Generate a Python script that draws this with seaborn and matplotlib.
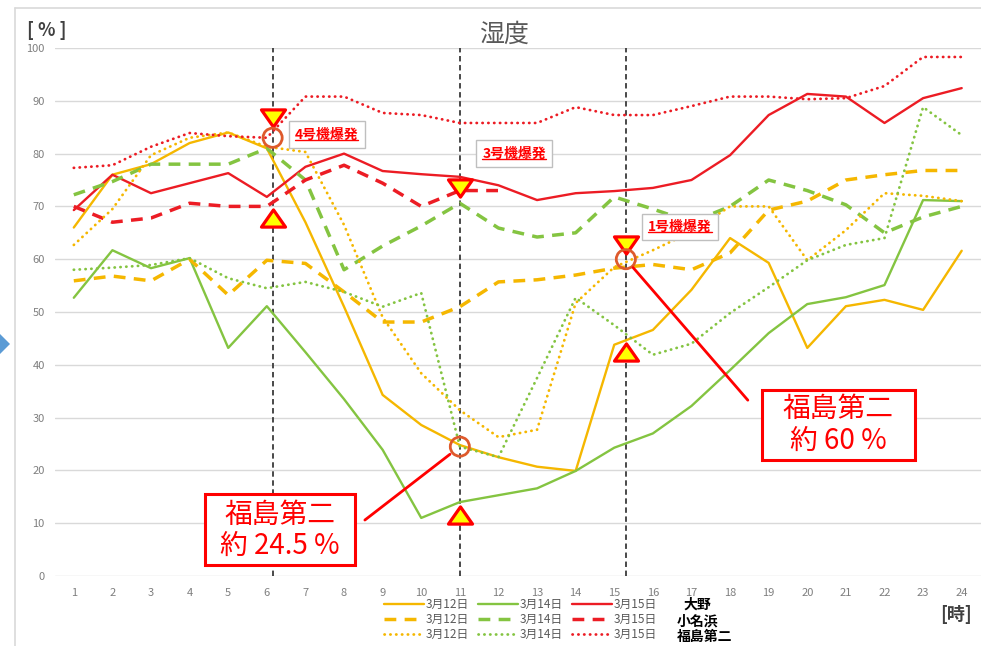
import numpy as np
import pandas as pd
import matplotlib
matplotlib.use("Agg")
import matplotlib.pyplot as plt
import seaborn as sns
from matplotlib.lines import Line2D
from matplotlib.patches import Polygon, Rectangle
from matplotlib.path import Path

# ---- humidity readings [%] by hour ----
hours = list(range(1, 25))

ono_0312 = [66, 76, 78, 82, 84, 81, 67, 51, 34.3, 28.6, 24.8, 22.5,
            20.7, 19.9, 43.8, 46.6, 54.2, 64, 59.3, 43.2, 51.1, 52.3, 50.4, 61.6]
ono_0314 = [52.7, 61.7, 58.3, 60.2, 43.2, 51.1, 42.4, 33.5, 23.9, 11.0, 14.0, 15.3,
            16.6, 19.9, 24.3, 27.0, 32.2, 39.0, 46.0, 51.5, 52.8, 55.1, 71.2, 71.0]
ono_0315 = [69.3, 76, 72.5, 74.4, 76.3, 71.8, 77.5, 80, 76.7, 76.1, 75.6, 74,
            71.2, 72.5, 72.9, 73.5, 75, 79.7, 87.3, 91.3, 90.8, 85.8, 90.5, 92.4]

onahama_0312 = [55.9, 56.8, 55.9, 60, 53.2, 59.8, 59.2, 53.8, 48.1, 48.1, 51, 55.7,
                56.1, 57, 58.3, 59, 58, 61.2, 69.3, 71, 75, 76, 76.8, 76.8]
onahama_0314 = [72.2, 74.7, 78, 78, 78, 81, 75, 58, 62.5, 66.3, 70.6, 65.9,
                64.2, 65, 71.8, 69.5, 67, 70, 75, 73, 70.3, 65, 68, 70]
onahama_0315 = [70, 67, 67.8, 70.6, 70, 70, 75, 77.8, 74.4, 70, 73, 73,
                np.nan, np.nan, np.nan, np.nan, np.nan, np.nan,
                np.nan, np.nan, np.nan, np.nan, np.nan, np.nan]

f2_0312 = [62.7, 69.5, 79.7, 83, 84, 81.3, 80.3, 66.5, 49, 38.4, 31.4, 26.3,
           27.7, 51.7, 58.5, 61.7, 65.2, 70, 70, 59.8, 65.5, 72.5, 72, 71]
f2_0314 = [58, 58.4, 58.9, 60.2, 56.4, 54.5, 55.7, 53.8, 51, 53.6, 24.5, 22.5,
           37.5, 52.7, 47.5, 41.9, 44, 49.8, 54.7, 59.8, 62.7, 64, 88.8, 83.5]
f2_0315 = [77.3, 77.8, 81.3, 83.9, 83.3, 83, 90.8, 90.8, 87.7, 87.3, 85.8, 85.8,
           85.8, 88.8, 87.3, 87.3, 89, 90.8, 90.8, 90.3, 90.5, 92.8, 98.3, 98.3]

sites = ["大野", "小名浜", "福島第二"]
dates = ["3月12日", "3月14日", "3月15日"]

# ---- explosion events ----
event_hours = [6.15, 11.0, 15.3]
event_labels = ["4号機爆発", "3号機爆発", "1号機爆発"]
event_down = [86.7, 73.5, 62.7]      # ▼ markers
event_up = [67.8, 11.5, 42.4]        # ▲ markers
event_f2 = [83.0, 24.5, 60.0]        # ○ 福島第二 reading at the event
callout_text = ["福島第二\n約 24.5 %", "福島第二\n約 60 %"]

values = {
    ("大野", "3月12日"): ono_0312, ("大野", "3月14日"): ono_0314, ("大野", "3月15日"): ono_0315,
    ("小名浜", "3月12日"): onahama_0312, ("小名浜", "3月14日"): onahama_0314, ("小名浜", "3月15日"): onahama_0315,
    ("福島第二", "3月12日"): f2_0312, ("福島第二", "3月14日"): f2_0314, ("福島第二", "3月15日"): f2_0315,
}
rows = []
for (site, date), vals in values.items():
    for h, v in zip(hours, vals):
        rows.append({"site": site, "date": date, "hour": h, "value": v})
df = pd.DataFrame(rows)

# ---- styles ----
sns.set_style("white")
plt.rcParams["font.family"] = ["Noto Sans CJK JP", "DejaVu Sans"]

date_color = {"3月12日": "#F5B700", "3月14日": "#84C441", "3月15日": "#EC1C24"}
site_style = {
    "大野": dict(linestyle="-", linewidth=1.7),
    "小名浜": dict(linestyle=(0, (3.4, 2.4)), linewidth=2.5),
    "福島第二": dict(linestyle=(0, (0.1, 2.0)), linewidth=2.0, dash_capstyle="round"),
}

W, H = 981, 646
fig = plt.figure(figsize=(W / 100, H / 100), dpi=100)
ax = fig.add_axes([54.5 / W, 1 - 576 / H, (W - 54.5) / W, (576 - 48) / H])

for site in sites:
    for date in dates:
        sub = df[(df.site == site) & (df.date == date)].dropna()
        sns.lineplot(data=sub, x="hour", y="value", ax=ax, color=date_color[date],
                     estimator=None, sort=False, zorder=3, **site_style[site])

ax.set_xlim(0.5, 24.5)
ax.set_ylim(0, 100)
ax.set_xticks(hours)
ax.set_yticks(range(0, 101, 10))
ax.set_xlabel("")
ax.set_ylabel("")
ax.grid(axis="y", color="#D9D9D9", linewidth=1)
ax.grid(axis="x", visible=False)
for s in ax.spines.values():
    s.set_visible(False)
ax.tick_params(axis="both", length=0, labelsize=8, labelcolor="#7F7F7F")
ax.tick_params(axis="y", pad=7)
ax.tick_params(axis="x", pad=9)

# event lines and markers
for x in event_hours:
    ax.axvline(x, color="#3A3A3A", linestyle=(0, (3, 2)), linewidth=1.3, zorder=2)

tri_down = Path([(-1.4, 1), (1.4, 1), (0, -1), (-1.4, 1)],
                [Path.MOVETO, Path.LINETO, Path.LINETO, Path.CLOSEPOLY])
tri_up = Path([(-1.4, -1), (1.4, -1), (0, 1), (-1.4, -1)],
              [Path.MOVETO, Path.LINETO, Path.LINETO, Path.CLOSEPOLY])
sns.scatterplot(x=event_hours, y=event_down, marker=tri_down, s=300, color="#FFFF00",
                edgecolor="#FF0000", linewidth=2.3, ax=ax, zorder=6)
sns.scatterplot(x=event_hours, y=event_up, marker=tri_up, s=300, color="#FFFF00",
                edgecolor="#FF0000", linewidth=2.3, ax=ax, zorder=6)
sns.scatterplot(x=event_hours, y=event_f2, marker="o", s=190, facecolor="none",
                edgecolor="#DE5A2C", linewidth=2.0, ax=ax, zorder=6)

# event name tags (placed to the right of each event line)
tag_pos = [(7.55, 83.6), (12.41, 80.0), (16.7, 66.1)]
tags = []
for (tx, ty), lab in zip(tag_pos, event_labels):
    t = ax.text(tx, ty, lab, ha="center", va="center", fontsize=10, fontweight="bold",
                color="#FF0000",
                bbox=dict(boxstyle="square,pad=0.45", fc="white", ec="#BFBFBF", lw=1),
                zorder=7)
    tags.append(t)

# call-out boxes for 福島第二
callout_boxes = [(4.39, 2.1, 3.89, 13.4), (18.82, 22.0, 3.97, 13.2)]
callout_centres = [(6.34, 8.6), (20.8, 28.6)]
callout_anchor = [(8.54, 10.6), (18.46, 33.3)]
for (bx, by, bw, bh), (cx, cy), txt in zip(callout_boxes, callout_centres, callout_text):
    ax.add_patch(Rectangle((bx, by), bw, bh, fc="white", ec="#FF0000", lw=2.2, zorder=8))
    ax.text(cx, cy, txt, ha="center", va="center", fontsize=20, color="#FF0000",
            linespacing=1.05, zorder=9)
for (ex, ey, shrink), (lx, ly) in zip([(event_hours[1], event_f2[1], 9),
                                       (event_hours[2], event_f2[2], 8)], callout_anchor):
    ax.annotate("", xy=(ex, ey), xytext=(lx, ly),
                arrowprops=dict(arrowstyle="-", color="#FF0000", lw=2.0,
                                shrinkA=0, shrinkB=shrink), zorder=7)

# titles and unit labels
fig.text(504 / W, 1 - 35 / H, "湿度", ha="center", va="center", fontsize=18, color="#595959")
fig.text(27 / W, 1 - 30 / H, "[ % ]", ha="left", va="center", fontsize=13,
         fontweight="bold", color="#404040")
fig.text(940 / W, 1 - 614 / H, "[時]", ha="left", va="center", fontsize=13,
         fontweight="bold", color="#404040")

# legend: columns by date, rows by site
handles, labels = [], []
for date in dates:
    for site in sites:
        handles.append(Line2D([], [], color=date_color[date], **site_style[site]))
        labels.append(date)
leg = fig.legend(handles, labels, ncol=3, loc="upper left",
                 bbox_to_anchor=(384 / W, 1 - 598 / H), frameon=False,
                 fontsize=8.5, handlelength=3.4, handletextpad=0.15,
                 columnspacing=0.75, labelspacing=0.18, borderpad=0, borderaxespad=0)
for txt in leg.get_texts():
    txt.set_color("#595959")
for site, (xx, yy) in zip(sites, [(684, 605), (677, 621), (677, 637)]):
    fig.text(xx / W, 1 - yy / H, site, ha="left", va="center", fontsize=10,
             fontweight="bold", color="#000000")

# chart frame and side pointer
fig.add_artist(Line2D([15 / W, 15 / W], [0, 1 - 8 / H], color="#D9D9D9", lw=1.2))
fig.add_artist(Line2D([15 / W, 1], [1 - 8 / H, 1 - 8 / H], color="#D9D9D9", lw=1.2))
pts = [(10, 344), (-8, 326), (-26, 344), (-8, 362)]
fig.add_artist(Polygon([(px / W, 1 - py / H) for px, py in pts], closed=True,
                       fc="#5B9BD5", ec="none", transform=fig.transFigure))

# underline the event tags
fig.canvas.draw()
inv = fig.transFigure.inverted()
for t in tags:
    bb = t.get_window_extent()
    (x0, y0), (x1, _) = inv.transform([(bb.x0, bb.y0 + 1.5), (bb.x1, bb.y0 + 1.5)])
    fig.add_artist(Line2D([x0, x1], [y0, y0], color="#FF0000", lw=1.0, zorder=9))

fig.savefig("out.png", dpi=100)
